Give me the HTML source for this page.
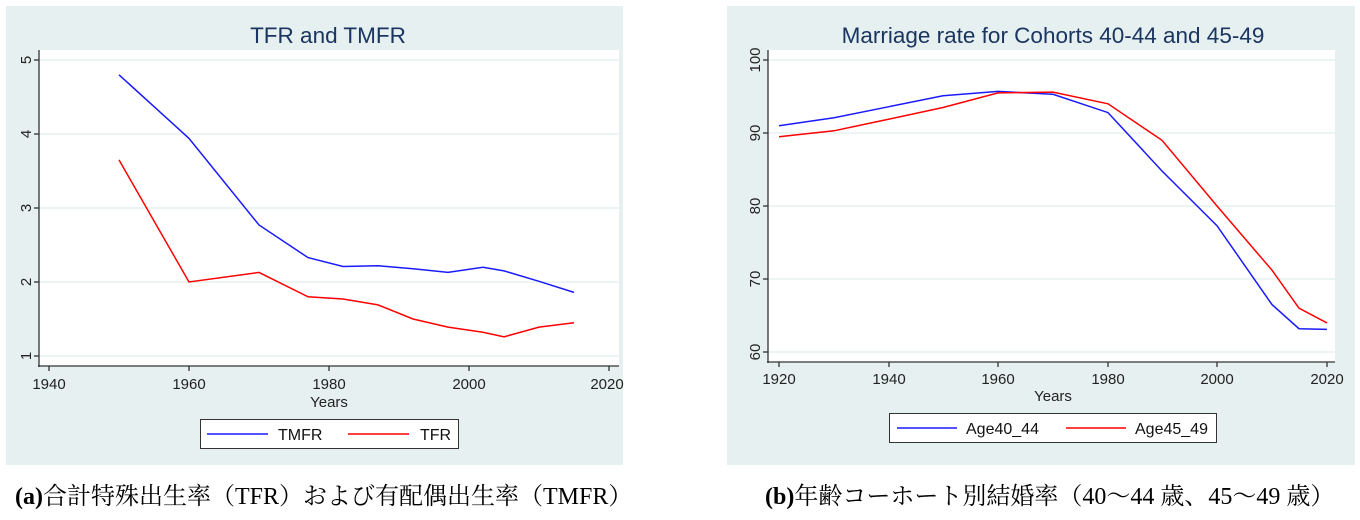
<!DOCTYPE html>
<html><head><meta charset="utf-8"><style>
body{margin:0;background:#fff;width:1360px;height:520px;overflow:hidden}
svg{display:block}
.t{font-family:"Liberation Sans",sans-serif}
.c{font-family:"Liberation Serif","Noto Serif CJK SC",serif;font-size:24px;fill:#000}
</style></head><body>
<svg width="1360" height="520" xmlns="http://www.w3.org/2000/svg">
<!-- Left panel -->
<rect x="6" y="6" width="617" height="459" fill="#e6f0f0"/>
<text class="t" x="328" y="43" font-size="22.5" fill="#1a3560" text-anchor="middle">TFR and TMFR</text>
<rect x="39" y="50" width="580" height="316" fill="#fff"/>
<g stroke="#e6f0f0" stroke-width="1.5">
<line x1="39" y1="60" x2="619" y2="60"/><line x1="39" y1="134" x2="619" y2="134"/><line x1="39" y1="208" x2="619" y2="208"/><line x1="39" y1="282" x2="619" y2="282"/><line x1="39" y1="356" x2="619" y2="356"/>
</g>
<g stroke="#333" stroke-width="1.3" fill="none">
<line x1="39" y1="50" x2="39" y2="367"/><line x1="38" y1="366" x2="619" y2="366"/>
<line x1="34" y1="60" x2="39" y2="60"/><line x1="34" y1="134" x2="39" y2="134"/><line x1="34" y1="208" x2="39" y2="208"/><line x1="34" y1="282" x2="39" y2="282"/><line x1="34" y1="356" x2="39" y2="356"/>
<line x1="49" y1="366" x2="49" y2="371"/><line x1="189" y1="366" x2="189" y2="371"/><line x1="329" y1="366" x2="329" y2="371"/><line x1="469" y1="366" x2="469" y2="371"/><line x1="609" y1="366" x2="609" y2="371"/>
</g>
<g class="t" font-size="15" fill="#222" text-anchor="middle">
<text transform="translate(26,60) rotate(-90)" dy="5">5</text>
<text transform="translate(26,134) rotate(-90)" dy="5">4</text>
<text transform="translate(26,208) rotate(-90)" dy="5">3</text>
<text transform="translate(26,282) rotate(-90)" dy="5">2</text>
<text transform="translate(26,356) rotate(-90)" dy="5">1</text>
<text x="49" y="389">1940</text><text x="189" y="389">1960</text><text x="329" y="389">1980</text><text x="469" y="389">2000</text><text x="607" y="389">2020</text>
<text x="329" y="407">Years</text>
</g>
<polyline fill="none" stroke="#1a1aff" stroke-width="1.5" points="119,74.8 189,138.4 259,225 308,257.6 343,266.5 378,265.7 413,268.7 448,272.4 483,267.2 504,270.9 539,281.3 574,292.4"/>
<polyline fill="none" stroke="#ff0000" stroke-width="1.5" points="119,159.9 189,282 259,272.4 308,296.8 343,299 378,304.9 413,319 448,327.1 483,332.3 504,336.8 539,327.1 574,322.7"/>
<rect x="200.5" y="419.5" width="258" height="29" fill="#fff" stroke="#333" stroke-width="1"/>
<line x1="207" y1="434" x2="268" y2="434" stroke="#1a1aff" stroke-width="1.5"/>
<line x1="348" y1="434" x2="409" y2="434" stroke="#ff0000" stroke-width="1.5"/>
<g class="t" font-size="16" fill="#111"><text x="278" y="440">TMFR</text><text x="420" y="440">TFR</text></g>
<text class="c" x="15" y="504"><tspan font-weight="bold">(a)</tspan>合計特殊出生率（TFR）および有配偶出生率（TMFR）</text>

<!-- Right panel -->
<rect x="727" y="6" width="628" height="459" fill="#e6f0f0"/>
<text class="t" x="1053" y="43" font-size="22.5" fill="#1a3560" text-anchor="middle">Marriage rate for Cohorts 40-44 and 45-49</text>
<rect x="768" y="50" width="567" height="312" fill="#fff"/>
<g stroke="#e6f0f0" stroke-width="1.5">
<line x1="768" y1="60" x2="1335" y2="60"/><line x1="768" y1="133" x2="1335" y2="133"/><line x1="768" y1="206" x2="1335" y2="206"/><line x1="768" y1="279" x2="1335" y2="279"/><line x1="768" y1="352" x2="1335" y2="352"/>
</g>
<g stroke="#333" stroke-width="1.3" fill="none">
<line x1="768" y1="50" x2="768" y2="363"/><line x1="767" y1="362" x2="1335" y2="362"/>
<line x1="763" y1="60" x2="768" y2="60"/><line x1="763" y1="133" x2="768" y2="133"/><line x1="763" y1="206" x2="768" y2="206"/><line x1="763" y1="279" x2="768" y2="279"/><line x1="763" y1="352" x2="768" y2="352"/>
<line x1="779" y1="362" x2="779" y2="367"/><line x1="889" y1="362" x2="889" y2="367"/><line x1="998" y1="362" x2="998" y2="367"/><line x1="1108" y1="362" x2="1108" y2="367"/><line x1="1217" y1="362" x2="1217" y2="367"/><line x1="1327" y1="362" x2="1327" y2="367"/>
</g>
<g class="t" font-size="15" fill="#222" text-anchor="middle">
<text transform="translate(755,60) rotate(-90)" dy="5">100</text>
<text transform="translate(755,133) rotate(-90)" dy="5">90</text>
<text transform="translate(755,206) rotate(-90)" dy="5">80</text>
<text transform="translate(755,279) rotate(-90)" dy="5">70</text>
<text transform="translate(755,352) rotate(-90)" dy="5">60</text>
<text x="779" y="384">1920</text><text x="889" y="384">1940</text><text x="998" y="384">1960</text><text x="1108" y="384">1980</text><text x="1217" y="384">2000</text><text x="1327" y="384">2020</text>
<text x="1053" y="401">Years</text>
</g>
<polyline fill="none" stroke="#1a1aff" stroke-width="1.5" points="779,125.7 834,117.7 889,106.7 943,95.8 998,91.4 1053,94.3 1108,112.6 1162,171 1217,225.7 1272,304.6 1299,328.7 1327,329.4"/>
<polyline fill="none" stroke="#ff0000" stroke-width="1.5" points="779,136.7 834,130.8 889,119.1 943,107.5 998,92.9 1053,92.1 1108,103.8 1162,140.3 1217,206 1272,270.2 1299,308.2 1327,322.9"/>
<rect x="889.5" y="413.5" width="327" height="29" fill="#fff" stroke="#333" stroke-width="1"/>
<line x1="897" y1="428" x2="957" y2="428" stroke="#1a1aff" stroke-width="1.5"/>
<line x1="1066" y1="428" x2="1126" y2="428" stroke="#ff0000" stroke-width="1.5"/>
<g class="t" font-size="16" fill="#111"><text x="966" y="434">Age40_44</text><text x="1135" y="434">Age45_49</text></g>
<text class="c" x="765" y="504"><tspan font-weight="bold">(b)</tspan>年齢コーホート別結婚率（40～44 歳、45～49 歳）</text>
</svg>
</body></html>
